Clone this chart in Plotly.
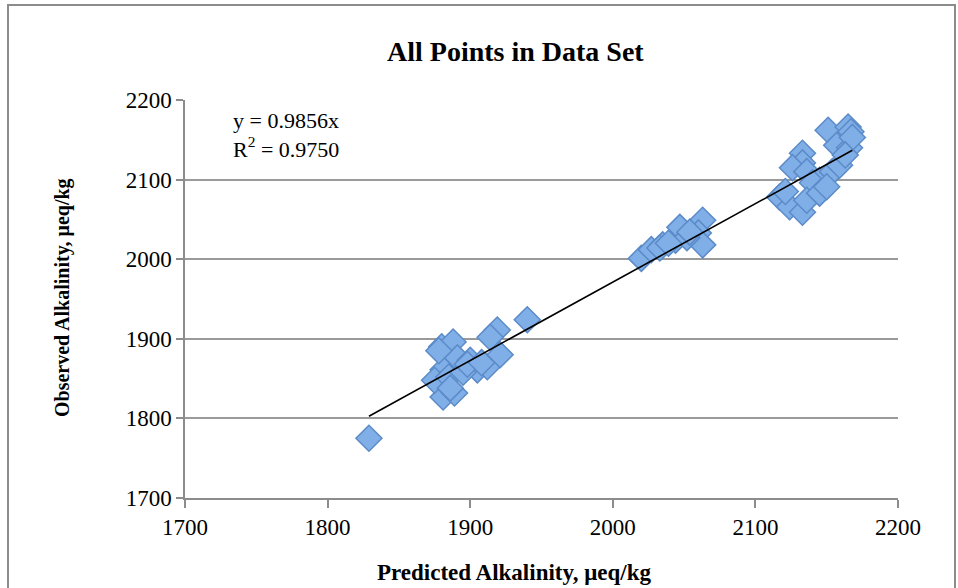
import plotly.graph_objects as go

# Predicted (x) and observed (y) alkalinity, µeq/kg
predicted = [1829,
             1880, 1888, 1891, 1881, 1879, 1881, 1889, 1900, 1905, 1912, 1919, 1914,
             1921, 1940, 1875, 1885, 1895, 1878, 1898, 1908, 1886,
             2020, 2027, 2035, 2044, 2047, 2063, 2060, 2063, 2052, 2033, 2054, 2039,
             2151, 2165, 2167, 2157, 2166, 2133, 2133, 2126, 2136, 2145, 2154, 2159,
             2140, 2117, 2124, 2133, 2136, 2145, 2150, 2168, 2163, 2121]
observed = [1775,
            1890, 1896, 1876, 1861, 1842, 1827, 1832, 1873, 1861, 1865, 1911, 1902,
            1880, 1924, 1848, 1852, 1858, 1885, 1868, 1870, 1838,
            2001, 2012, 2018, 2024, 2040, 2049, 2033, 2018, 2027, 2014, 2034, 2020,
            2162, 2166, 2160, 2143, 2140, 2133, 2121, 2115, 2110, 2099, 2110, 2118,
            2096, 2078, 2066, 2059, 2074, 2083, 2091, 2153, 2131, 2085]

slope = 0.9856
r_squared = 0.9750
tick_vals = [1700, 1800, 1900, 2000, 2100, 2200]

W, H = 958, 588
L, R, T, B = 185, 898, 100, 498

font = "Liberation Serif, Times New Roman, serif"

fig = go.Figure()
fig.add_trace(go.Scatter(
    x=predicted, y=observed, mode="markers",
    marker=dict(symbol="diamond", size=20, color="#80aee6",
                line=dict(color="#5b8bc8", width=1.5)),
    showlegend=False, hoverinfo="x+y"))

x_lo, x_hi = min(predicted), max(predicted)
fig.add_trace(go.Scatter(
    x=[x_lo, x_hi], y=[slope * x_lo, slope * x_hi], mode="lines",
    line=dict(color="black", width=1.6), showlegend=False, hoverinfo="skip"))

def px_x(p):
    return (p - L) / (R - L)

def px_y(p):
    return (B - p) / (B - T)

fig.update_layout(
    width=W, height=H,
    margin=dict(l=L, r=W - R, t=T, b=H - B),
    paper_bgcolor="white", plot_bgcolor="white",
    font=dict(family=font, color="black", size=23),
    xaxis=dict(range=[1700, 2200], tickvals=tick_vals, showgrid=False,
               showline=True, linecolor="#8c8c8c", linewidth=1.5,
               ticks="outside", ticklen=8, tickcolor="#8c8c8c", tickwidth=1.5,
               zeroline=False, tickfont=dict(size=23)),
    yaxis=dict(range=[1700, 2200], tickvals=tick_vals, showgrid=True,
               gridcolor="#9a9a9a", gridwidth=1.5,
               showline=True, linecolor="#8c8c8c", linewidth=1.5,
               ticks="outside", ticklen=7, tickcolor="#8c8c8c", tickwidth=1.5,
               zeroline=False, tickfont=dict(size=23)),
    shapes=[dict(type="rect", xref="paper", yref="paper",
                 x0=px_x(8), x1=px_x(955), y0=px_y(592), y1=px_y(5),
                 line=dict(color="#8c8c8c", width=2), layer="below")],
    annotations=[
        dict(text="<b>All Points in Data Set</b>", xref="paper", yref="paper",
             x=px_x(515), y=px_y(52), showarrow=False, font=dict(size=28),
             xanchor="center", yanchor="middle"),
        dict(text="<b>Predicted Alkalinity, μeq/kg</b>", xref="paper", yref="paper",
             x=px_x(514), y=px_y(572), showarrow=False, font=dict(size=23),
             xanchor="center", yanchor="middle"),
        dict(text="<b>Observed Alkalinity, μeq/kg</b>", xref="paper", yref="paper",
             x=px_x(62), y=px_y(298), showarrow=False, font=dict(size=20),
             textangle=-90, xanchor="center", yanchor="middle"),
        dict(text=f"y = {slope:.4f}x<br>R<sup>2</sup> = {r_squared:.4f}",
             xref="paper", yref="paper", x=px_x(231), y=px_y(106),
             showarrow=False, font=dict(size=22), align="left",
             xanchor="left", yanchor="top"),
    ],
)

fig.write_html("out.html")
